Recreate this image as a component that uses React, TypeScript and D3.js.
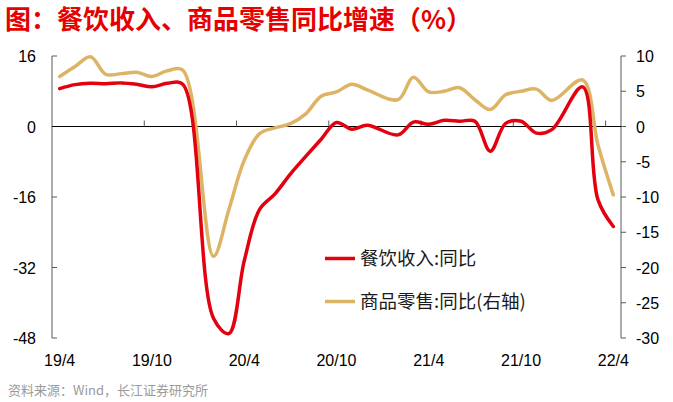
import React from "react";
import * as d3 from "d3";

const categories = [
  "19/4","19/5","19/6","19/7","19/8","19/9","19/10","19/11","19/12",
  "20/1","20/2","20/3","20/4","20/5","20/6","20/7","20/8","20/9","20/10","20/11","20/12",
  "21/1","21/2","21/3","21/4","21/5","21/6","21/7","21/8","21/9","21/10","21/11","21/12",
  "22/1","22/2","22/3","22/4",
];
const xLabels = ["19/4", "19/10", "20/4", "20/10", "21/4", "21/10", "22/4"];

const cateringYoY: (number | null)[] = [
  8.6, 9.5, 9.8, 9.7, 9.9, 9.6, 9.0, 9.8, 9.6,
  null, -43.5, -47.0, -30.5, -18.8, -15.3, -10.8, -6.8, -2.9, 0.9, -0.6, 0.3,
  null, -1.9, 1.0, 0.5, 1.4, 1.2, 1.2, -5.6, 0.7, 1.2, -1.5, -0.7,
  null, 9.0, -16.6, -22.7,
];
const retailGoodsYoY: (number | null)[] = [
  7.1, 8.5, 9.9, 7.4, 7.5, 7.7, 7.1, 7.9, 8.0,
  null, -18.4, -11.8, -4.8, -1.0, -0.2, 0.4, 1.8, 4.3, 4.9, 6.0, 5.2,
  null, 3.8, 7.0, 4.9, 5.0, 5.5, 3.8, 2.4, 4.5, 5.0, 5.3, 3.7,
  null, 6.6, -2.6, -9.7,
];
const leftTicks = [16, 0, -16, -32, -48];
const rightTicks = [10, 5, 0, -5, -10, -15, -20, -25, -30];

const W = 673;
const H = 402;
const RED = "#E3000F";
const GOLD = "#DDB466";
const NUM_FONT = "'Liberation Sans', Arial, sans-serif";
const CJK_FONT = "'Noto Sans CJK SC', 'Noto Sans', sans-serif";

export default function App() {
  const x = d3.scaleBand<string>().domain(categories).range([52, 621]).paddingInner(0).paddingOuter(0);
  const cx = (c: string) => (x(c) as number) + x.bandwidth() / 2;
  const yL = d3.scaleLinear().domain([-48, 16]).range([338, 56]);
  const yR = d3.scaleLinear().domain([-30, 10]).range([338, 56]);

  const mk = (vals: (number | null)[], y: d3.ScaleLinear<number, number>) => {
    const pts: [number, number][] = [];
    vals.forEach((v, i) => {
      if (v !== null) pts.push([cx(categories[i]), y(v)]);
    });
    return d3.line().curve(d3.curveCatmullRom.alpha(0.5))(pts) || "";
  };

  const redPath = mk(cateringYoY, yL);
  const goldPath = mk(retailGoodsYoY, yR);
  const zeroY = yL(0);
  const boundaryTicks = categories.map((c, i) => i).filter((i) => i > 0 && i % 6 === 0);

  return (
    <svg width={W} height={H} style={{ position: "absolute", left: 0, top: 0, background: "#fff" }}>
      <text x={5} y={29} fill="#E60000" fontFamily={CJK_FONT} fontWeight={700} fontSize={26}>
        图：餐饮收入、商品零售同比增速（%）
      </text>

      {/* left axis */}
      <line x1={52} x2={52} y1={yL(16)} y2={yL(-48)} stroke="#595959" strokeWidth={1} />
      {leftTicks.map((t) => (
        <g key={"l" + t}>
          <line x1={52} x2={57} y1={yL(t)} y2={yL(t)} stroke="#595959" />
          <text x={36} y={yL(t) + 6} textAnchor="end" fontFamily={NUM_FONT} fontSize={16} fill="#000">
            {t}
          </text>
        </g>
      ))}

      {/* right axis */}
      <line x1={621} x2={621} y1={yR(10)} y2={yR(-30)} stroke="#595959" strokeWidth={1} />
      {rightTicks.map((t) => (
        <g key={"r" + t}>
          <line x1={621} x2={626} y1={yR(t)} y2={yR(t)} stroke="#595959" />
          <text x={636} y={yR(t) + 6} textAnchor="start" fontFamily={NUM_FONT} fontSize={16} fill="#000">
            {t}
          </text>
        </g>
      ))}

      {/* zero line and category ticks */}
      <line x1={52} x2={621} y1={zeroY} y2={zeroY} stroke="#000" strokeWidth={1} />
      {boundaryTicks.map((i) => (
        <line key={"t" + i} x1={x(categories[i]) as number} x2={x(categories[i]) as number} y1={zeroY} y2={zeroY - 6} stroke="#595959" />
      ))}
      {xLabels.map((l) => (
        <text key={l} x={cx(l)} y={366} textAnchor="middle" fontFamily={NUM_FONT} fontSize={16} fill="#000">
          {l}
        </text>
      ))}

      <path d={goldPath} fill="none" stroke={GOLD} strokeWidth={3.5} strokeLinejoin="round" strokeLinecap="round" />
      <path d={redPath} fill="none" stroke={RED} strokeWidth={3.5} strokeLinejoin="round" strokeLinecap="round" />

      {/* legend */}
      <line x1={325} x2={355} y1={258.5} y2={258.5} stroke={RED} strokeWidth={3.5} />
      <text x={360} y={265} fontFamily={CJK_FONT} fontSize={18.5} fill="#1a1a1a">餐饮收入:同比</text>
      <line x1={325} x2={355} y1={301.5} y2={301.5} stroke={GOLD} strokeWidth={3.5} />
      <text x={360} y={308} fontFamily={CJK_FONT} fontSize={18.5} fill="#1a1a1a">商品零售:同比(右轴)</text>

      <text x={8} y={395} fontFamily={CJK_FONT} fontSize={13} fill="#9a9a9a">资料来源：Wind，长江证券研究所</text>
    </svg>
  );
}
